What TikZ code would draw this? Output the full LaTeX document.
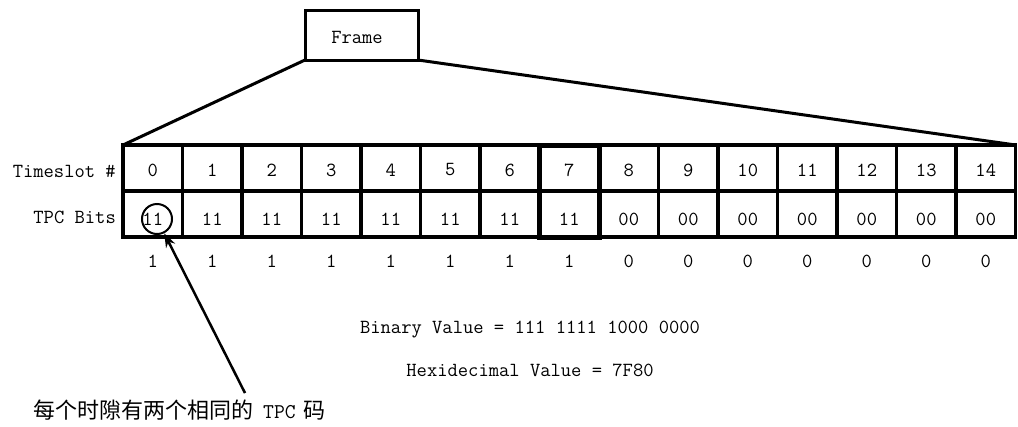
\documentclass[tikz,border=0pt]{standalone}
\usepackage{fontspec}
\newfontfamily\cjk{Noto Sans CJK SC}
\usetikzlibrary{arrows.meta}
\begin{document}
\begin{tikzpicture}[x=1pt,y=-1pt,
  font=\ttfamily\fontsize{20}{24}\selectfont,
  cell/.style={draw, line width=3.5pt, inner sep=0pt, outer sep=0pt,
    minimum width=59.5pt, minimum height=46pt},
  txt/.style={inner sep=0pt},
  thick box/.style={draw, line width=3pt, inner sep=0pt, outer sep=0pt},
  link/.style={line width=3pt},
  pointer/.style={line width=2.5pt, -{Stealth[length=14pt,width=10pt]}}]
\useasboundingbox (0,0) rectangle (1018,426);
\fill[white] (0,0) rectangle (1018,426);
% frame box
\node[thick box, minimum width=113pt, minimum height=50pt] (frame) at (361.5,35) {};
\node[txt] (frametxt) at (357,37) {Frame};
% cells
\foreach \i in {0,...,14}{
  \ifnum\i<8 \def\tb{11}\def\bt{1}\else\def\tb{00}\def\bt{0}\fi
  \node[cell] (t\i) at ({123+59.5*(\i+0.5)},168) {};
  \node[cell] (b\i) at ({123+59.5*(\i+0.5)},214) {};
  \node[txt] (tn\i) at ({123+59.5*(\i+0.5)},170) {\i};
  \node[txt] (bn\i) at ({123+59.5*(\i+0.5)},219) {\tb};
  \node[txt] (v\i) at ({123+59.5*(\i+0.5)},261) {\bt};
}
\draw[line width=5pt] (t7.north west) rectangle (b7.south east);
% row labels
\node[anchor=east, inner sep=0pt] (lt) at (116,171) {Timeslot \#};
\node[anchor=east, inner sep=0pt] (lb) at (116,217) {TPC Bits};
% expansion lines
\draw[link] (frame.south west) -- (t0.north west);
\draw[link] (frame.south east) -- (t14.north east);
% circle and pointer
\node[circle, draw, line width=2pt, minimum size=30pt, inner sep=0pt] (circ) at (157,219) {};
\coordinate (tail) at (245,393);
\draw[pointer] (tail) -- (circ);
% values
\node (bin) at (530,330) {Binary Value = 111 1111 1000 0000};
\node (hex) at (530,370) {Hexidecimal Value = 7F80};
% note
\node[anchor=west, inner sep=0pt] (note) at (33,410) {\cjk\fontsize{22}{26}\selectfont 每个时隙有两个相同的\hspace{10pt}{\ttfamily\fontsize{21}{25}\selectfont TPC}\hspace{8pt}码};
\end{tikzpicture}
\end{document}
